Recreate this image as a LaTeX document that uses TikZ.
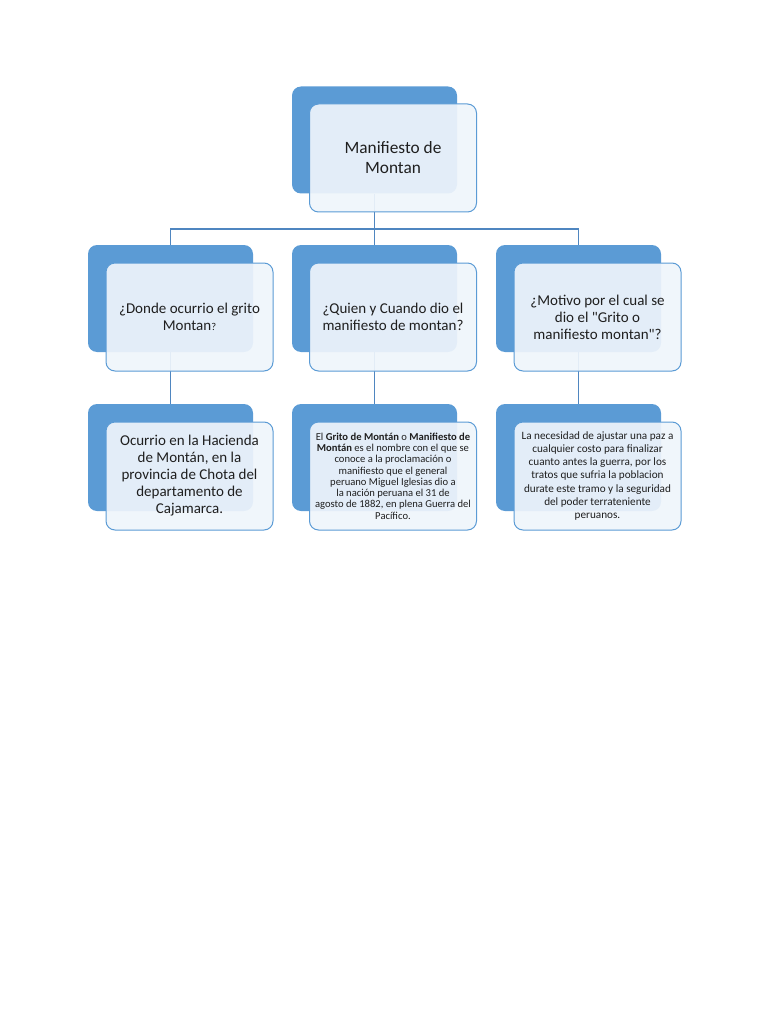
\documentclass[tikz,border=0pt]{standalone}
\usepackage{fontspec}
\setmainfont{Carlito}[Ligatures=TeXOff]
\definecolor{darkbox}{HTML}{5B9BD5}
\definecolor{lightbox}{HTML}{EFF5FB}
\definecolor{conn}{HTML}{4F86C0}
\definecolor{txt}{HTML}{1F1F1F}
\tikzset{
  darkbx/.style={draw=none, fill=darkbox, rounded corners=9pt, inner sep=0pt, minimum width=165pt, minimum height=107pt},
  lightbx/.style={draw=darkbox, line width=1pt, fill=lightbox, fill opacity=0.92, text opacity=1, rounded corners=9pt, inner sep=0pt, minimum width=167pt, minimum height=108pt, align=center, text=txt},
  connector/.style={draw=conn, line width=1.1pt},
  bigtxt/.style={font=\fontsize{17.3}{20}\selectfont},
  midtxt/.style={font=\fontsize{15}{17}\selectfont},
  smalltxt/.style={font=\fontsize{10.6}{11.3}\selectfont},
  smalltxtb/.style={font=\fontsize{11.2}{13.2}\selectfont},
}
\begin{document}
\begin{tikzpicture}[x=1pt,y=-1pt]
\useasboundingbox (0,0) rectangle (768,1024);
% dark boxes
\node[darkbx] (tD) at (374.5,140) {};
\node[darkbx] (aD) at (170.5,298.5) {};
\node[darkbx] (bD) at (374.5,298.5) {};
\node[darkbx] (cD) at (578.5,298.5) {};
\node[darkbx] (dD) at (170.5,457.5) {};
\node[darkbx] (eD) at (374.5,457.5) {};
\node[darkbx] (fD) at (578.5,457.5) {};
% connectors
\coordinate (bus) at (374.5,229);
\draw[connector] (tD.south) -- (bus);
\draw[connector] (aD.north) |- (bus) -| (cD.north);
\draw[connector] (bus) -- (bD.north);
\draw[connector] (aD.south) -- (dD.north);
\draw[connector] (bD.south) -- (eD.north);
\draw[connector] (cD.south) -- (fD.north);
% light boxes
\node[lightbx,bigtxt] (tL) at (393,158) {Manifiesto de\\ Montan};
\node[lightbx,midtxt] (aL) at (189.5,317) {¿Donde ocurrio el grito\\ Montan{\fontsize{10.5}{12}\selectfont ?}};
\node[lightbx,midtxt] (bL) at (393,317) {¿Quien y Cuando dio el\\ manifiesto de montan?};
\node[lightbx,midtxt] (cL) at (597.5,317) {¿Motivo por el cual se\\ dio el "Grito o\\ manifiesto montan"?};
\node[lightbx,midtxt] (dL) at (189.5,476) {Ocurrio en la Hacienda\\ de Montán, en la\\ provincia de Chota del\\ departamento de\\ Cajamarca.};
\node[lightbx,smalltxt] (eL) at (393,476) {El \textbf{Grito de Montán} o \textbf{Manifiesto de}\\ \textbf{Montán} es el nombre con el que se\\ conoce a la proclamación o\\ manifiesto que el general\\ peruano Miguel Iglesias dio a\\ la nación peruana el 31 de\\ agosto de 1882, en plena Guerra del\\ Pacífico.};
\node[lightbx,smalltxtb] (fL) at (597.5,476) {La necesidad de ajustar una paz a\\ cualquier costo para finalizar\\ cuanto antes la guerra, por los\\ tratos que sufria la poblacion\\ durate este tramo y la seguridad\\ del poder terrateniente\\ peruanos.};
\end{tikzpicture}
\end{document}
